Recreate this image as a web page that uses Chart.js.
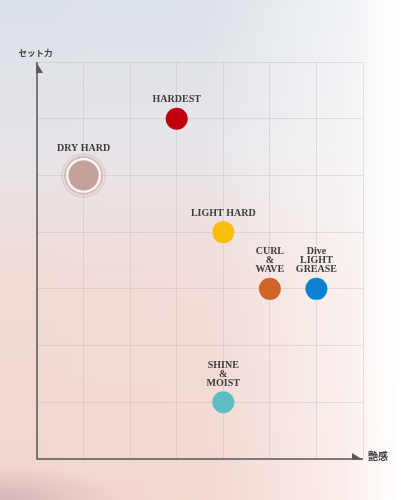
<!DOCTYPE html>
<html>
<head>
<meta charset="utf-8">
<script src="https://cdn.jsdelivr.net/npm/chart.js@4.4.1/dist/chart.umd.min.js"></script>
<style>
  html, body { margin: 0; padding: 0; }
  body {
    width: 411px;
    height: 500px;
    overflow: hidden;
    background:
      linear-gradient(to right, rgba(255,255,255,0) 0%, rgba(255,255,255,0.05) 50%, rgba(255,255,255,0.6) 84%, #fff 97%),
      radial-gradient(ellipse 30% 7% at 0% 100%, rgba(185,150,160,0.5) 0%, rgba(185,150,160,0) 100%),
      linear-gradient(to bottom, #dbe1e8 0%, #e7e5e9 30%, #f1dcd8 55%, #f3d5cf 100%);
  }
  #wrap { position: relative; width: 411px; height: 500px; }
</style>
</head>
<body>
<div id="wrap"><canvas id="styleChart"></canvas></div>
<script>
// products placed by shine (x) and hold (y)
const productNames = [['HARDEST'], ['DRY HARD'], ['LIGHT HARD'], ['CURL', '&', 'WAVE'], ['Dive', 'LIGHT', 'GREASE'], ['SHINE', '&', 'MOIST']];
const shineValues = [3, 1, 4, 5, 6, 4];
const holdValues = [6, 5, 4, 3, 3, 1];
const productColors = ['#c1000f', '#c4a29c', '#f8be0b', '#d0652a', '#0a82cf', '#5dbec5'];
const featured = [false, true, false, false, false, false];

const xAxisLabel = '艶感';
const yAxisLabel = 'セット力';
const axisMax = 7;

const labelFont = 'bold 10px "Liberation Serif", serif';
const axisColor = '#595959';

// halo rings, product labels, axis arrows
const decorPlugin = {
  id: 'decor',
  beforeDatasetsDraw(chart) {
    const { ctx, chartArea: a } = chart;
    ctx.save();
    ctx.strokeStyle = axisColor;
    ctx.fillStyle = axisColor;
    ctx.lineWidth = 1.5;
    ctx.beginPath();
    ctx.moveTo(a.left, a.top);
    ctx.lineTo(a.left, a.bottom);
    ctx.lineTo(a.right, a.bottom);
    ctx.stroke();

    ctx.beginPath();
    ctx.moveTo(a.left - 0.75, a.top);
    ctx.lineTo(a.left - 0.75, a.top + 11);
    ctx.lineTo(a.left + 6, a.top + 11);
    ctx.closePath();
    ctx.fill();

    ctx.beginPath();
    ctx.moveTo(a.right, a.bottom + 0.75);
    ctx.lineTo(a.right - 11, a.bottom + 0.75);
    ctx.lineTo(a.right - 11, a.bottom - 6);
    ctx.closePath();
    ctx.fill();

    ctx.fillStyle = '#444';
    ctx.textAlign = 'center';
    ctx.textBaseline = 'middle';
    ctx.font = 'bold 8.5px "Noto Sans CJK JP", sans-serif';
    ctx.fillText(yAxisLabel, a.left - 1.5, a.top - 9);
    ctx.font = 'bold 10px "Noto Sans CJK JP", sans-serif';
    ctx.textAlign = 'left';
    ctx.fillText(xAxisLabel, a.right + 5, a.bottom - 3);

    const meta = chart.getDatasetMeta(0);
    meta.data.forEach((pt, i) => {
      if (!featured[i]) return;
      ctx.lineWidth = 2;
      ctx.strokeStyle = 'rgba(255,255,255,0.8)';
      ctx.beginPath(); ctx.arc(pt.x, pt.y, 16.5, 0, Math.PI * 2); ctx.stroke();
      ctx.lineWidth = 2.2;
      ctx.strokeStyle = 'rgba(200,160,155,0.55)';
      ctx.beginPath(); ctx.arc(pt.x, pt.y, 18.5, 0, Math.PI * 2); ctx.stroke();
      ctx.lineWidth = 1.5;
      ctx.strokeStyle = 'rgba(200,160,155,0.3)';
      ctx.beginPath(); ctx.arc(pt.x, pt.y, 21.5, 0, Math.PI * 2); ctx.stroke();
    });
    ctx.restore();
  },
  afterDatasetsDraw(chart) {
    const { ctx } = chart;
    const meta = chart.getDatasetMeta(0);
    ctx.save();
    ctx.font = labelFont;
    ctx.fillStyle = '#3d3d3d';
    ctx.textAlign = 'center';
    ctx.textBaseline = 'middle';
    meta.data.forEach((pt, i) => {
      const lines = productNames[i];
      const gap = featured[i] ? 27 : 19;
      lines.forEach((line, j) => {
        const y = pt.y - gap - (lines.length - 1 - j) * 9;
        ctx.fillText(line, pt.x, y);
      });
    });
    ctx.restore();
  }
};

const ctx = document.getElementById('styleChart').getContext('2d');
const styleChart = new Chart(ctx, {
  type: 'scatter',
  data: {
    datasets: [{
      data: shineValues.map((v, i) => ({ x: v, y: holdValues[i] })),
      backgroundColor: productColors,
      borderWidth: 0,
      pointRadius: featured.map(f => f ? 15 : 11),
      pointHoverRadius: featured.map(f => f ? 15 : 11)
    }]
  },
  options: {
    responsive: true,
    maintainAspectRatio: false,
    animation: false,
    events: [],
    layout: { padding: { left: 37, right: 48, top: 62, bottom: 41 } },
    plugins: {
      legend: { display: false },
      tooltip: { enabled: false }
    },
    scales: {
      x: {
        type: 'linear',
        min: 0,
        max: axisMax,
        ticks: { display: false, stepSize: 1 },
        grid: { color: 'rgba(185,165,165,0.3)', lineWidth: 1, drawTicks: false },
        border: { display: false }
      },
      y: {
        type: 'linear',
        min: 0,
        max: axisMax,
        ticks: { display: false, stepSize: 1 },
        grid: { color: 'rgba(185,165,165,0.3)', lineWidth: 1, drawTicks: false },
        border: { display: false }
      }
    }
  },
  plugins: [decorPlugin]
});
</script>
</body>
</html>
